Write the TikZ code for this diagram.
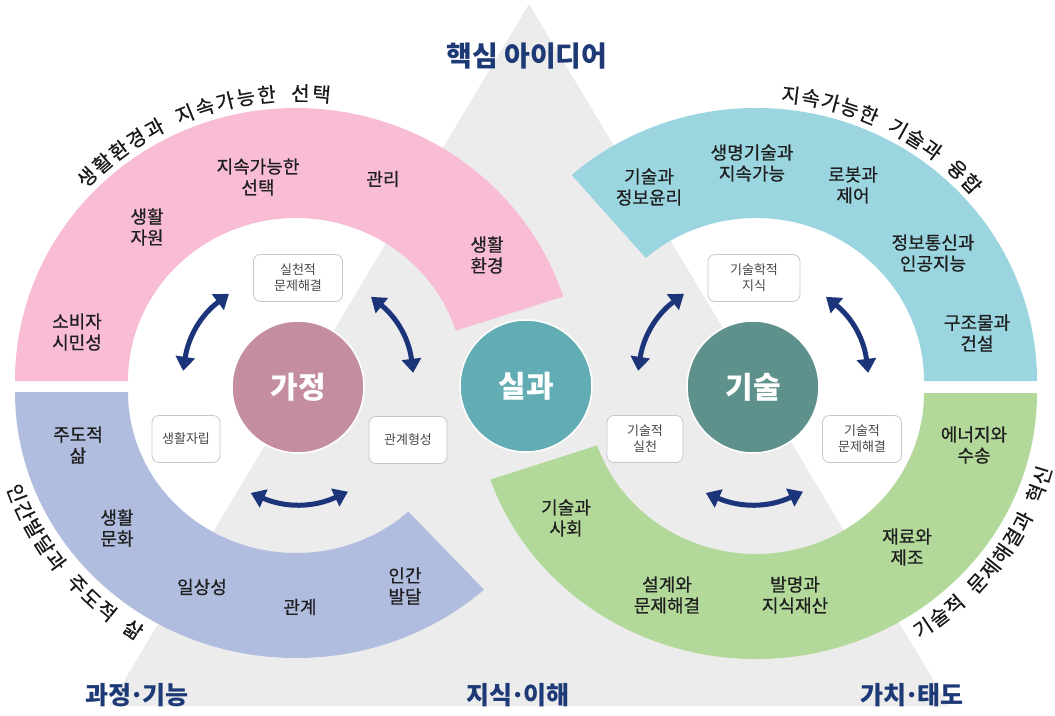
\documentclass[tikz,border=0pt]{standalone}
\usepackage{fontspec}
\setmainfont{Noto Sans CJK KR}
\newfontfamily\labelfont{Noto Sans CJK KR}[FakeBold=0.6]
\usetikzlibrary{arrows.meta}

\definecolor{trigrey}{RGB}{236,236,236}
\definecolor{ringpink}{RGB}{248,188,213}
\definecolor{ringblue}{RGB}{177,189,223}
\definecolor{ringteal}{RGB}{155,214,224}
\definecolor{ringgreen}{RGB}{179,217,154}
\definecolor{coremauve}{RGB}{196,142,158}
\definecolor{coreteal}{RGB}{98,172,180}
\definecolor{coresea}{RGB}{94,144,140}
\definecolor{arrownavy}{RGB}{27,52,122}
\definecolor{titlenavy}{RGB}{30,58,118}

\newcommand\arcfont{\labelfont\fontsize{20}{20}\selectfont}
\newcommand\middot{\kern-.1em·\kern-.1em}

\tikzset{
  ringlabel/.style={align=center,text=black!88,font=\labelfont\fontsize{18}{21}\selectfont,inner sep=0pt},
  arcchar/.style={text=black!90,font=\arcfont,inner sep=0pt},
  smallbox/.style={draw=black!22,fill=white,rounded corners=7pt,align=center,text=black!72,
    font=\fontsize{13}{16}\selectfont,minimum height=47pt,inner sep=0pt,line width=0.8pt},
  core/.style={circle,minimum size=132pt,draw=white,line width=1.5pt,text=white,
    font=\fontsize{30}{30}\selectfont\bfseries},
  dblarrow/.style={line width=5pt,draw=arrownavy,
    {Triangle[width=19pt,length=14pt]}-{Triangle[width=19pt,length=14pt]}},
  areatitle/.style={text=titlenavy,font=\fontsize{25}{25}\selectfont\bfseries,inner sep=0pt},
}

\begin{document}
\begin{tikzpicture}[x=1pt,y=1pt]
  \useasboundingbox (0,0) rectangle (1055,-715);
  \fill[white] (0,0) rectangle (1055,-715);
  % big triangle behind
  \fill[trigrey] (529,-4) -- (109,-706) -- (949,-706) -- cycle;

  % ring segments
  \fill[ringpink] (296,-381) ++(180:281 and 273) arc[start angle=180,end angle=18,x radius=281,y radius=273]
    -- ++(198:113 and 110) arc[start angle=18,end angle=180,x radius=168,y radius=163] -- cycle;
  \fill[ringblue] (296,-392) ++(180:281 and 266) arc[start angle=180,end angle=312,x radius=281,y radius=266]
    -- ++(132:113 and 105) arc[start angle=312,end angle=180,x radius=168,y radius=161] -- cycle;
  \fill[ringteal] (756,-381) ++(131:281 and 273) arc[start angle=131,end angle=0,x radius=281,y radius=273]
    -- ++(180:113 and 110) arc[start angle=0,end angle=131,x radius=168,y radius=163] -- cycle;
  \fill[ringgreen] (756,-393) ++(199:281 and 266) arc[start angle=199,end angle=360,x radius=281,y radius=266]
    -- ++(180:113 and 105) arc[start angle=360,end angle=199,x radius=168,y radius=161] -- cycle;

  % titles round the rings, one letter at a time
  \foreach \ch/\g [count=\i] in {생/0,활/0,환/0,경/0,과/0,지/1,속/1,가/1,능/1,한/1,선/2,택/2}{
    \pgfmathsetmacro\ang{137-4.09*(\i-0.5+0.6*\g)}
    \pgfmathsetmacro\rot{\ang-90}
    \node[arcchar,rotate=\rot] (pinktitle\i) at ([shift={(\ang:296 and 288)}]296,-381) {\ch};
  }
  \foreach \ch/\g [count=\i] in {인/0,간/0,발/0,달/0,과/0,주/1,도/1,적/1,삶/2}{
    \pgfmathsetmacro\ang{199+3.92*(\i-0.5+0.6*\g)}
    \pgfmathsetmacro\rot{\ang+90}
    \node[arcchar,rotate=\rot] (bluetitle\i) at ([shift={(\ang:299 and 283)}]296,-392) {\ch};
  }
  \foreach \ch/\g [count=\i] in {지/0,속/0,가/0,능/0,한/0,기/1,술/1,과/1,융/2,합/2}{
    \pgfmathsetmacro\ang{85.2-3.92*(\i-0.5+0.6*\g)}
    \pgfmathsetmacro\rot{\ang-90}
    \node[arcchar,rotate=\rot] (tealtitle\i) at ([shift={(\ang:296 and 288)}]756,-381) {\ch};
  }
  \foreach \ch/\g [count=\i] in {기/0,술/0,적/0,문/1,제/1,해/1,결/1,과/1,혁/2,신/2}{
    \pgfmathsetmacro\ang{302+3.84*(\i-0.5+0.6*\g)}
    \pgfmathsetmacro\rot{\ang+90}
    \node[arcchar,rotate=\rot] (greentitle\i) at ([shift={(\ang:299 and 283)}]756,-393) {\ch};
  }

  % ring labels
  \foreach \x/\y/\t [count=\i] in {77/332/{소비자\\시민성}, 147/227/{생활\\자원}, 258/177/{지속가능한\\선택},
      383/179/{관리}, 487/255/{생활\\환경}}
    \node[ringlabel] (pinklab\i) at (\x,-\y) {\t};
  \foreach \x/\y/\t [count=\i] in {78/445/{주도적\\삶}, 117/528/{생활\\문화}, 202/587/{일상성},
      300/607/{관계}, 405/586/{인간\\발달}}
    \node[ringlabel] (bluelab\i) at (\x,-\y) {\t};
  \foreach \x/\y/\t [count=\i] in {649/187/{기술과\\정보윤리}, 752/163/{생명기술과\\지속가능}, 853/185/{로봇과\\제어},
      933/253/{정보통신과\\인공지능}, 977/333/{구조물과\\건설}}
    \node[ringlabel] (teallab\i) at (\x,-\y) {\t};
  \foreach \x/\y/\t [count=\i] in {974/445/{에너지와\\수송}, 566/518/{기술과\\사회}, 907/547/{재료와\\제조},
      667/595/{설계와\\문제해결}, 795/595/{발명과\\지식재산}}
    \node[ringlabel] (greenlab\i) at (\x,-\y) {\t};

  % small boxes
  \foreach \x/\y/\w/\t/\n in {298/278/89/{실천적\\문제해결}/boxsolve, 186/439/68/{생활자립}/boxself,
      408/440/78/{관계형성}/boxrel, 754/278/92/{기술학적\\지식}/boxknow,
      645/439/76/{기술적\\실천}/boxprac, 862/439/79/{기술적\\문제해결}/boxtech}
    \node[smallbox,minimum width=\w pt] (\n) at (\x,-\y) {\t};

  % core circles
  \node[core,fill=coremauve] (gajeong) at (298,-387) {가정};
  \node[core,fill=coreteal] (silgwa) at (526,-386) {실과};
  \node[core,fill=coresea] (gisul) at (753,-387) {기술};

  % arrows round the two outer circles
  \foreach \c in {gajeong,gisul}{
    \coordinate (\c-ul1) at ([shift={(172:116)}]\c.center);
    \coordinate (\c-ul2) at ([shift={(126.5:116)}]\c.center);
    \coordinate (\c-ur1) at ([shift={(51:116)}]\c.center);
    \coordinate (\c-ur2) at ([shift={(7:116)}]\c.center);
    \coordinate (\c-bt1) at ([shift={(246:116)}]\c.center);
    \coordinate (\c-bt2) at ([shift={(295.5:116)}]\c.center);
    \draw[dblarrow] (\c-ul1) to[bend left=22] (\c-ul2);
    \draw[dblarrow] (\c-ur1) to[bend left=22] (\c-ur2);
    \draw[dblarrow] (\c-bt1) to[bend right=24] (\c-bt2);
  }

  % area titles
  \node[areatitle,font=\fontsize{28}{28}\selectfont\bfseries] (coreidea) at (527,-56) {핵심 아이디어};
  \node[areatitle] (process) at (137,-695) {과정\middot 기능};
  \node[areatitle] (knowledge) at (518,-695) {지식\middot 이해};
  \node[areatitle] (values) at (912,-695) {가치\middot 태도};
\end{tikzpicture}
\end{document}
